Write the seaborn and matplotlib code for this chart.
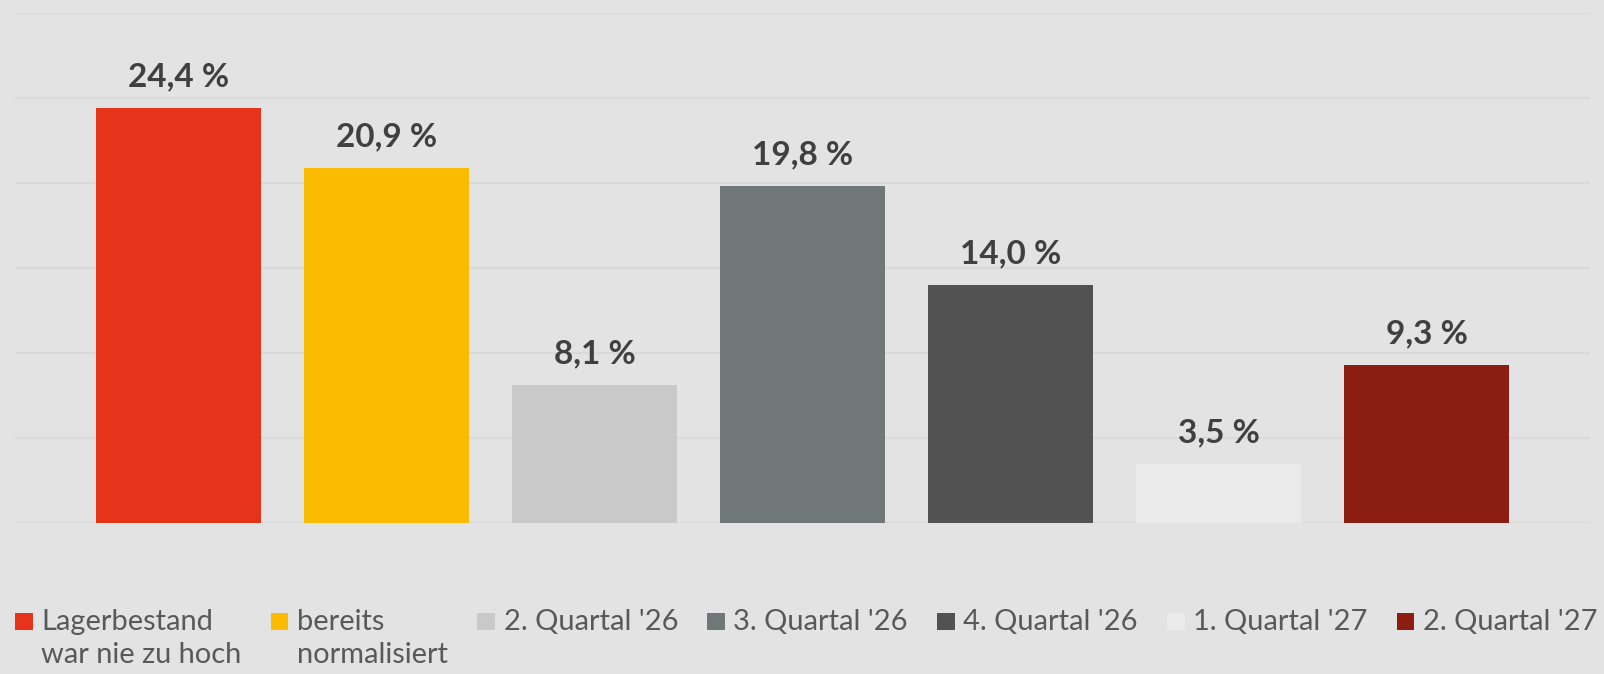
import textwrap

import matplotlib
matplotlib.use("Agg")
import matplotlib.pyplot as plt
from matplotlib.legend_handler import HandlerPatch
from matplotlib.patches import Patch, Rectangle
import pandas as pd
import seaborn as sns

# Survey answers: when inventory levels are expected to be back to normal
categories = [
    "Lagerbestand war nie zu hoch",
    "bereits normalisiert",
    "2. Quartal '26",
    "3. Quartal '26",
    "4. Quartal '26",
    "1. Quartal '27",
    "2. Quartal '27",
]
shares = [24.4, 20.9, 8.1, 19.8, 14.0, 3.5, 9.3]
colors = ["#E5341A", "#FABB00", "#C9C9C9", "#6F7876", "#525252", "#EAEAEA", "#8B1E10"]
y_ticks = [0, 5, 10, 15, 20, 25, 30]

BG = "#E3E3E3"
GRID = "#D9D9D9"
LABEL_COLOR = "#404040"
LEGEND_COLOR = "#595959"

sns.set_theme(style="white")
plt.rcParams["font.family"] = ["Lato", "DejaVu Sans"]

df = pd.DataFrame({"answer": categories, "share": shares})
palette = dict(zip(categories, colors))

fig = plt.figure(figsize=(16.04, 6.74), dpi=100, facecolor=BG)
ax = fig.add_axes([15 / 1604, 1 - 523 / 674, 1575 / 1604, 510 / 674])
ax.set_facecolor(BG)

sns.barplot(data=df, x="answer", y="share", hue="answer", palette=palette,
            order=categories, hue_order=categories, width=0.79,
            saturation=1, legend=False, dodge=False, linewidth=0,
            edgecolor="none", ax=ax)

ax.set_ylim(0, 30)
ax.set_xlim(-0.785, len(categories) - 1 + 0.785)
ax.set_yticks(y_ticks)
ax.yaxis.grid(True, color=GRID, linewidth=1.5)
ax.xaxis.grid(False)
ax.set_axisbelow(True)
ax.tick_params(left=False, bottom=False, labelleft=False, labelbottom=False)
ax.set_xlabel("")
ax.set_ylabel("")
for s in ax.spines.values():
    s.set_visible(False)

# value labels in German number format
for cont in ax.containers:
    vals = [bar.get_height() for bar in cont]
    labs = [f"{v:.1f}".replace(".", ",") + " %" for v in vals]
    ax.bar_label(cont, labels=labs, padding=12, fontsize=24, fontweight="bold",
                 color=LABEL_COLOR)


# square legend markers aligned with the first text line
def top_square(legend, orig_handle, xdescent, ydescent, width, height, fontsize):
    side = 0.61 * fontsize
    return Rectangle((-xdescent, -ydescent + 0.62 * fontsize), side, side)


handles = [Patch(facecolor=c, edgecolor="none") for c in colors]
labels = []
for c in categories:
    lab = textwrap.fill(c, 15)
    if "\n" not in lab:
        lab += "\n "
    labels.append(lab)

leg = fig.legend(handles, labels, loc="upper left", bbox_to_anchor=(15 / 1604, 1 - 609 / 674),
                 ncol=len(categories), frameon=False, fontsize=20.9,
                 handlelength=0.61, handleheight=0.61, handletextpad=0.3,
                 columnspacing=1.0, borderpad=0, borderaxespad=0,
                 handler_map={Patch: HandlerPatch(patch_func=top_square)})
for t in leg.get_texts():
    t.set_color(LEGEND_COLOR)
    t.set_linespacing(1.35)

fig.savefig("out.png", dpi=100, facecolor=BG)
